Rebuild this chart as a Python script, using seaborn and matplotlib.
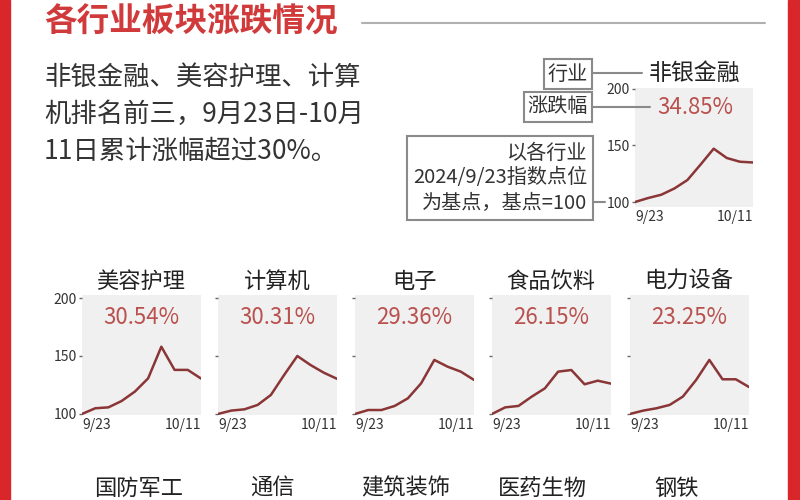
import matplotlib
matplotlib.use("Agg")
from matplotlib import pyplot as plt
from matplotlib.lines import Line2D
from matplotlib.patches import Rectangle
import numpy as np
import pandas as pd
import seaborn as sns

sns.set_theme(style="white")
plt.rcParams['font.family'] = ['Noto Sans CJK SC', 'DejaVu Sans']

# trading days 9/23 .. 10/11 (index base 9/23 = 100)
days = ["9/23", "9/24", "9/25", "9/26", "9/27", "9/30", "10/8", "10/9", "10/10", "10/11"]

top_name = "非银金融"
top_pct = "34.85%"
top_vals = [100, 103.5, 106.4, 111.9, 119.4, 133.0, 147.0, 138.8, 135.5, 134.85]

row2_names = ["美容护理", "计算机", "电子", "食品饮料", "电力设备"]
row2_pcts = ["30.54%", "30.31%", "29.36%", "26.15%", "23.25%"]
row2_vals = [
    [100, 104.9, 105.7, 111.2, 119.3, 130.7, 158.0, 138.0, 138.0, 130.54],
    [100, 102.9, 104.0, 107.8, 116.4, 133.6, 150.0, 142.2, 135.6, 130.31],
    [100, 103.4, 103.4, 106.9, 113.5, 126.4, 146.6, 140.8, 136.5, 129.36],
    [100, 105.7, 106.9, 114.9, 122.1, 136.5, 137.9, 125.6, 128.7, 126.15],
    [100, 102.9, 104.9, 107.8, 115.0, 129.3, 146.6, 129.9, 129.9, 123.25],
]

row3_names = ["国防军工", "通信", "建筑装饰", "医药生物", "钢铁"]

W, H = 800, 500
fig = plt.figure(figsize=(8, 5), dpi=100)
fig.patch.set_facecolor("white")

RED = "#d8262b"
LINE = "#8a3536"
PCT = "#b9514e"
GRAY_BG = "#f0f0f0"


def fx(x):
    return x / W


def fy(y):
    return 1 - y / H


def axes_px(x0, y0, x1, y1):
    return fig.add_axes([fx(x0), fy(y1), (x1 - x0) / W, (y1 - y0) / H])


def style_panel(ax, ylim, show_labels):
    ax.set_facecolor(GRAY_BG)
    for s in ax.spines.values():
        s.set_visible(False)
    ax.set_xlim(0, len(days) - 1)
    ax.set_ylim(*ylim)
    ax.set_yticks([100, 150, 200])
    if show_labels:
        ax.set_yticklabels(["100", "150", "200"])
    else:
        ax.set_yticklabels(["", "", ""])
    ax.tick_params(axis="y", length=2.5, width=1, color="#666", pad=1,
                   labelsize=10, labelcolor="#333", left=True)
    ax.set_xticks([0, len(days) - 1])
    ax.set_xticklabels([days[0], days[-1]])
    labs = ax.get_xticklabels()
    labs[0].set_ha("left")
    labs[1].set_ha("right")
    ax.tick_params(axis="x", length=0, pad=2, labelsize=10, labelcolor="#333")
    ax.set_xlabel("")
    ax.set_ylabel("")


# red side bars
fig.patches.append(Rectangle((0, 0), fx(10), 1, transform=fig.transFigure,
                             color=RED, zorder=0))
fig.patches.append(Rectangle((fx(788), 0), fx(12), 1, transform=fig.transFigure,
                             color=RED, zorder=0))

# title and intro
fig.text(fx(44), fy(22), "各行业板块涨跌情况", fontsize=23.5, fontweight="bold",
         color="#d13a3b", ha="left", va="center")
fig.add_artist(Line2D([fx(362), fx(765)], [fy(23), fy(23)], color="#b0b0b0",
                      lw=1.5, transform=fig.transFigure))
intro = ["非银金融、美容护理、计算", "机排名前三，9月23日-10月", "11日累计涨幅超过30%。"]
for i, line in enumerate(intro):
    fig.text(fx(44), fy(77 + 37 * i), line, fontsize=19, color="#333333",
             ha="left", va="center")

# top-right example panel
ax = axes_px(635, 88, 753, 207)
df = pd.DataFrame({"x": np.arange(len(days)), "v": top_vals})
sns.lineplot(data=df, x="x", y="v", ax=ax, color=LINE, lw=1.8)
style_panel(ax, (95.6, 200.5), True)
fig.text(fx(694), fy(73), top_name, fontsize=16.5, color="#222", ha="center", va="center")
fig.text(fx(695), fy(107), top_pct, fontsize=16, color=PCT, ha="center", va="center")

box = dict(boxstyle="square,pad=0.2", fc="white", ec="#8a8a8a", lw=1.5)
fig.text(fx(568), fy(74), "行业", fontsize=14.5, color="#333", ha="center",
         va="center", bbox=box)
fig.text(fx(558), fy(107), "涨跌幅", fontsize=14.5, color="#333", ha="center",
         va="center", bbox=box)
fig.text(fx(587), fy(178), "以各行业\n2024/9/23指数点位\n为基点，基点=100", fontsize=14.5,
         color="#333", ha="right", va="center", multialignment="right",
         linespacing=1.25, bbox=dict(boxstyle="square,pad=0.3", fc="white",
                                     ec="#8a8a8a", lw=1.5))
for (x0, x1, y) in [(592, 642, 73), (592, 650, 107), (592, 605, 202)]:
    fig.add_artist(Line2D([fx(x0), fx(x1)], [fy(y), fy(y)], color="#8a8a8a",
                          lw=1.5, transform=fig.transFigure))

# second row
lefts = [82, 218, 355, 492, 630]
for i, (name, pct, vals) in enumerate(zip(row2_names, row2_pcts, row2_vals)):
    x0 = lefts[i]
    ax = axes_px(x0, 295, x0 + 119, 415)
    df = pd.DataFrame({"x": np.arange(len(days)), "v": vals})
    sns.lineplot(data=df, x="x", y="v", ax=ax, color=LINE, lw=1.8)
    style_panel(ax, (99.1, 202.6), i == 0)
    fig.text(fx(x0 + 59), fy(281), name, fontsize=16, color="#222",
             ha="center", va="center")
    fig.text(fx(x0 + 59), fy(318), pct, fontsize=16, color=PCT,
             ha="center", va="center")

# third row (cut off at the bottom): only titles and the top tick show
centers3 = [139, 272, 406, 542, 677]
for i, name in enumerate(row3_names):
    c = centers3[i]
    ax = axes_px(c - 59, 502, c + 60, 622)
    style_panel(ax, (99.1, 202.6), False)
    ax.set_xticklabels(["", ""])
    fig.text(fx(c), fy(488), name, fontsize=16, color="#222",
             ha="center", va="center")

fig.savefig("out.png", dpi=100, facecolor="white")
